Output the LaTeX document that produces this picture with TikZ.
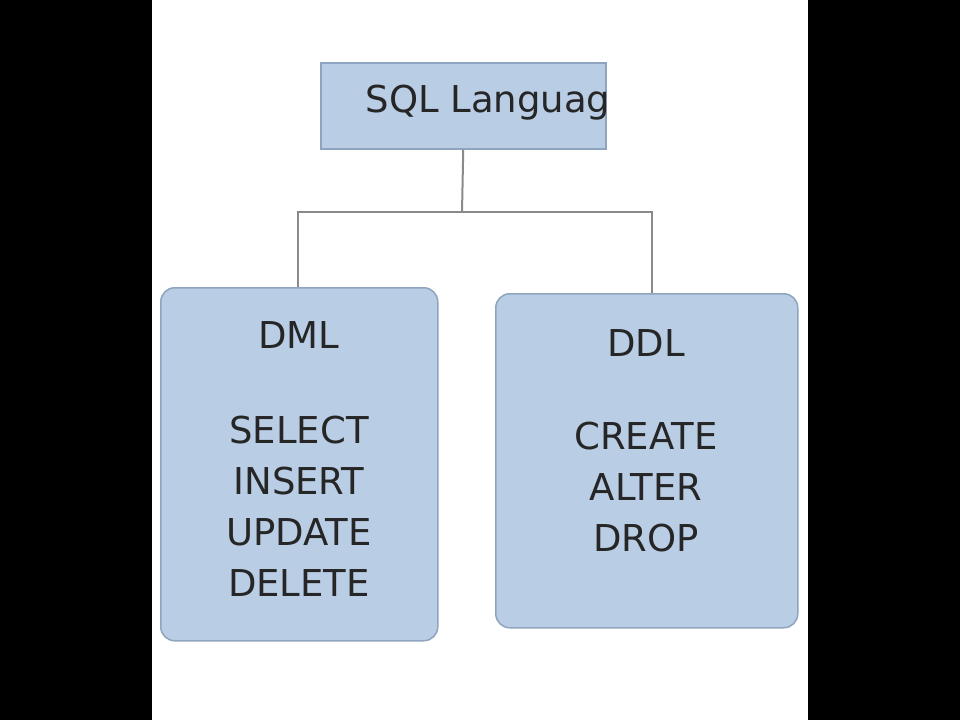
\documentclass[tikz,border=0pt]{standalone}
\usepackage{fontspec}
\setmainfont{DejaVu Sans}
\usetikzlibrary{positioning}
\definecolor{boxfill}{HTML}{B9CDE5}
\definecolor{boxline}{HTML}{8EA4BF}
\definecolor{wire}{HTML}{8A8A8A}

\begin{document}
\begin{tikzpicture}[x=1pt, y=-1pt,
  box/.style={draw=boxline, line width=1.5pt, fill=boxfill, anchor=north west,
    inner sep=0pt},
  title/.style={font=\fontsize{37}{44}\selectfont, text=black!85},
  entry/.style={font=\fontsize{37}{51}\selectfont, text=black!85, align=center},
  wire/.style={draw=wire, line width=2pt},
]
% --- frame ---
\fill[black] (0,0) rectangle (960,720);
\fill[white] (152,0) rectangle (808,720);
\useasboundingbox (0,0) rectangle (960,720);

% --- boxes ---
\node[box, minimum width=285pt, minimum height=86pt] (sql) at (320,62) {};
\node[box, rounded corners=14pt, minimum width=277pt, minimum height=353pt]
  (dml) at (160,287) {};
\node[box, rounded corners=14pt, minimum width=302pt, minimum height=334pt]
  (ddl) at (495,293) {};

% --- texts ---
\begin{scope}
\clip (sql.north west) rectangle (sql.south east);
\node[title, anchor=west] (sqltxt) at (362,103) {SQL Language};
\end{scope}
\node[title] (dmlname) at (299,335) {DML};
\node[entry, anchor=north] (dmllist) at (299,412)
  {SELECT\\INSERT\\UPDATE\\DELETE};
\node[title] (ddlname) at (646,343) {DDL};
\node[entry, anchor=north] (ddllist) at (646,418) {CREATE\\ALTER\\DROP};

% --- connectors ---
\coordinate (split) at (462,212);
\coordinate (dmltop) at (298,287);
\coordinate (ddltop) at (652,293);
\draw[wire] (sql.south) -- (split);
\draw[wire] (dmltop) |- (split) -| (ddltop);
\end{tikzpicture}
\end{document}
